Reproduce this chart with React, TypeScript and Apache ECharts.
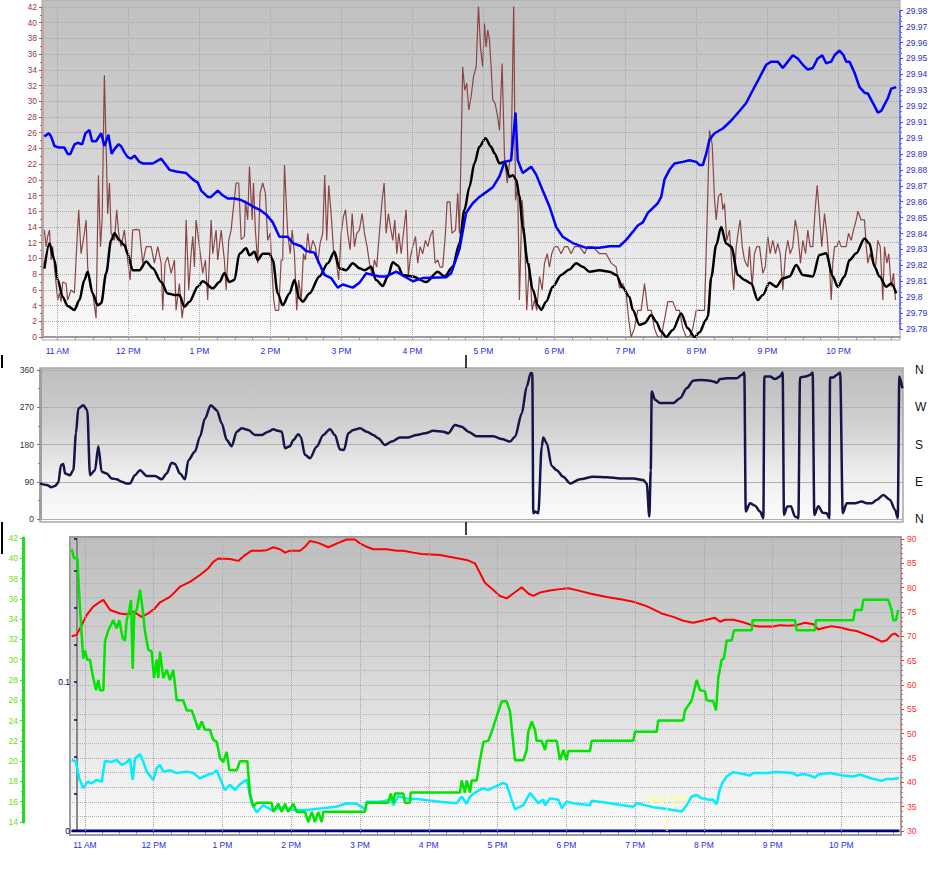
import React, { useEffect, useRef } from 'react';
import * as echarts from 'echarts';

// time axis values are minutes after midnight
const X_MIN = 647;
const X_MAX = 1372;
const HOURS = [11, 12, 13, 14, 15, 16, 17, 18, 19, 20, 21, 22];
const HOUR_TICKS = HOURS.map((h) => h * 60);
const QUARTER_TICKS: number[] = [];
for (let m = 660; m <= 1365; m += 15) QUARTER_TICKS.push(m);
const SUNSET = 1168;

// Top panel: wind gust (mph), left axis
const GUST: [number, number][] = [
  [649.0,13.6],[650.5,11.5],[651.8,12.8],[653.3,13.6],[654.7,9.8],[656.0,11.5],[657.5,8.9],[660.3,4.7],[661.7,5.6],[663.1,4.5],
  [664.5,7.0],[667.4,6.8],[668.7,4.7],[671.6,6.0],[674.4,5.6],[676.3,11.5],[678.0,16.2],[680.0,10.6],[682.8,13.2],[684.3,14.9],
  [685.6,8.9],[687.7,6.4],[689.8,5.6],[692.7,2.4],[694.7,20.6],[696.4,11.5],[697.8,14.9],[699.7,33.3],[701.2,24.2],[702.5,15.7],
  [704.0,19.6],[705.4,13.2],[708.2,12.3],[710.1,16.2],[711.8,13.2],[713.8,11.5],[716.6,13.6],[719.4,9.8],[721.5,7.25],[723.6,13.6],
  [726.5,13.7],[729.3,13.6],[732.1,9.4],[735.0,11.5],[739.2,11.5],[742.0,9.4],[744.8,11.5],[747.7,9.4],[749.0,3.4],[751.0,9.4],
  [753.2,10.2],[756.1,8.1],[758.9,9.8],[760.3,3.4],[763.1,6.8],[765.4,2.4],[767.3,4.7],[768.8,14.9],[771.0,6.0],[773.0,10.6],
  [774.4,12.8],[775.8,8.9],[777.2,14.9],[780.0,11.5],[782.8,8.1],[785.1,9.8],[787.0,4.7],[789.9,14.9],[791.3,10.6],[794.1,13.6],
  [795.5,9.8],[798.4,13.6],[801.1,9.8],[802.6,6.0],[804.8,12.3],[806.8,13.6],[808.2,15.7],[811.0,19.6],[813.2,19.6],[815.3,12.4],
  [818.1,12.8],[818.9,17.4],[820.8,14.9],[822.3,21.7],[824.6,14.9],[825.7,19.6],[827.3,13.6],[829.3,9.4],[831.3,18.3],[833.5,19.6],
  [835.8,18.3],[837.7,12.3],[839.8,13.2],[841.5,8.1],[842.8,4.7],[844.2,3.4],[847.0,3.4],[849.1,9.8],[850.4,9.8],[851.9,21.9],
  [853.3,17.4],[854.6,13.2],[856.7,10.6],[858.4,13.6],[860.3,10.6],[862.2,3.4],[863.9,7.25],[866.0,4.7],[867.9,10.6],[869.6,9.8],
  [871.6,13.2],[873.6,10.6],[875.8,12.3],[878.0,11.5],[880.0,9.4],[882.0,11.9],[884.2,13.2],[885.9,20.6],[887.6,12.3],[889.3,19.3],
  [891.3,15.7],[893.3,11.1],[895.5,9.8],[897.7,7.25],[899.8,13.2],[901.7,15.3],[903.4,16.2],[905.3,13.2],[907.4,11.1],[909.1,15.7],
  [911.0,11.5],[913.0,13.2],[915.2,13.6],[917.5,15.7],[919.5,13.2],[921.7,11.5],[923.7,9.4],[926.0,7.7],[927.9,9.8],[929.8,8.9],
  [932.1,13.2],[934.4,17.4],[936.1,19.6],[937.8,13.2],[939.7,15.7],[941.4,14.0],[943.4,12.3],[945.1,14.9],[946.8,10.6],[948.5,13.2],
  [950.5,10.6],[952.4,13.2],[954.7,16.2],[956.6,7.7],[958.3,10.2],[960.3,11.5],[962.6,12.8],[964.5,9.4],[966.5,11.5],[968.7,10.6],
  [971.0,12.3],[973.0,11.5],[975.0,12.8],[977.2,13.6],[979.2,9.4],[981.4,9.8],[983.4,8.9],[985.6,8.9],[987.9,13.2],[989.3,17.2],
  [991.7,17.2],[993.4,13.2],[996.4,13.6],[998.3,18.3],[999.7,13.2],[1001.2,24.2],[1002.5,34.4],[1004.2,31.4],[1005.9,32.3],[1007.6,28.9],
  [1009.6,30.6],[1011.6,33.1],[1013.9,34.4],[1015.8,42.3],[1017.5,36.9],[1019.4,34.4],[1020.9,39.9],[1022.3,36.9],[1023.7,39.1],[1025.1,37.8],
  [1026.5,34.4],[1027.9,30.2],[1029.9,29.7],[1032.1,28.0],[1033.6,26.3],[1035.8,34.8],[1037.8,22.9],[1040.1,19.6],[1042.0,22.1],[1043.4,22.9],
  [1045.6,42.3],[1047.1,17.4],[1049.0,19.1],[1050.4,4.7],[1052.7,17.4],[1054.7,13.2],[1056.6,3.4],[1058.9,9.4],[1061.2,3.4],[1063.1,4.7],
  [1065.1,3.4],[1067.4,7.7],[1069.6,6.0],[1071.6,9.4],[1073.9,10.6],[1075.8,8.9],[1077.7,10.6],[1080.0,11.5],[1082.8,11.5],[1085.7,10.6],
  [1088.5,11.5],[1091.3,11.5],[1094.1,10.6],[1096.9,11.5],[1101.2,11.5],[1105.4,10.6],[1108.2,11.5],[1112.4,11.5],[1118.1,10.6],[1123.7,10.6],
  [1128.0,9.4],[1132.2,8.9],[1135.0,6.2],[1137.7,6.8],[1140.6,5.6],[1142.8,2.2],[1144.8,0],[1147.6,1.1],[1150.4,3.4],[1153.3,3.4],
  [1156.1,6.8],[1158.9,3.4],[1161.8,3.4],[1164.5,1.1],[1167.3,0],[1170.2,0],[1173.0,2.2],[1175.8,4.5],[1180.0,4.5],[1182.9,3.4],
  [1185.7,3.4],[1188.5,1.1],[1191.3,0],[1194.1,0],[1196.9,1.1],[1199.8,3.4],[1204.0,3.4],[1206.8,3.4],[1208.7,13.2],[1211.0,26.3],
  [1213.3,24.5],[1215.3,17.4],[1216.7,14.9],[1218.6,17.9],[1220.9,18.3],[1222.3,16.2],[1223.7,17.0],[1225.6,12.3],[1227.9,13.6],[1229.9,8.9],
  [1231.5,6.0],[1233.6,11.5],[1235.5,13.6],[1237.0,14.9],[1238.7,11.5],[1240.6,9.8],[1243.4,8.9],[1244.8,11.5],[1247.1,6.4],[1249.0,10.6],
  [1251.0,11.5],[1253.3,11.5],[1256.1,8.1],[1258.1,8.9],[1260.3,12.8],[1262.3,10.6],[1264.5,12.3],[1266.8,10.6],[1268.7,11.9],[1270.8,10.6],
  [1273.0,6.0],[1275.3,10.6],[1277.2,12.3],[1279.2,10.6],[1281.4,11.5],[1283.5,14.9],[1285.6,13.2],[1287.9,9.4],[1289.9,12.3],[1292.2,10.6],
  [1294.1,13.6],[1296.1,11.5],[1298.3,11.5],[1300.3,16.2],[1302.0,19.3],[1304.0,15.3],[1305.9,11.5],[1308.2,15.7],[1310.2,13.2],[1312.4,8.9],
  [1313.9,4.7],[1315.2,9.4],[1316.7,11.5],[1318.6,11.5],[1320.3,12.3],[1322.3,11.5],[1326.5,11.5],[1328.5,13.2],[1330.8,12.3],[1332.7,13.6],
  [1335.0,14.9],[1336.4,16.0],[1339.2,14.9],[1342.0,14.9],[1343.5,11.5],[1344.8,9.4],[1346.8,10.6],[1349.0,9.4],[1351.3,8.9],[1353.3,12.3],
  [1355.3,11.5],[1357.5,4.7],[1358.9,11.5],[1360.9,9.4],[1362.5,10.6],[1364.6,6.4],[1366.5,8.1],[1368.2,4.7],
];

// Top panel: average wind speed (mph), left axis
const WIND_AVG: [number, number][] = [
  [649.0,8.7],[653.3,11.9],[657.5,9.8],[660.3,7.25],[664.5,5.1],[668.7,3.95],[674.4,3.45],[678.6,4.7],[682.8,7.25],[685.6,8.3],
  [689.8,5.55],[694.1,4.05],[697.0,4.3],[701.2,8.1],[705.4,12.3],[708.2,13.2],[712.4,12.3],[716.6,11.7],[719.4,10.6],[723.6,8.5],
  [729.3,8.5],[735.0,9.6],[740.6,8.75],[747.7,7.0],[753.2,5.55],[758.9,5.35],[763.1,5.35],[767.3,3.85],[771.6,4.5],[778.6,6.4],
  [782.8,7.1],[791.3,6.2],[796.9,7.0],[801.1,8.1],[805.4,7.0],[809.6,7.25],[813.8,10.6],[819.5,11.3],[822.3,10.4],[826.5,10.85],
  [829.3,9.8],[833.5,10.6],[839.2,10.6],[842.0,9.8],[846.2,5.55],[850.4,4.05],[856.1,5.55],[860.3,7.25],[864.5,4.9],[867.3,4.5],
  [873.0,5.55],[881.4,7.7],[888.5,9.4],[894.1,10.85],[898.3,8.75],[904.0,8.5],[909.6,9.4],[915.2,8.75],[919.5,8.5],[925.1,8.95],
  [929.3,7.25],[934.9,6.5],[939.2,7.7],[943.4,9.5],[947.6,9.1],[951.8,7.9],[960.3,7.7],[971.6,7.0],[981.4,8.3],[987.1,7.7],
  [994.1,8.95],[999.7,11.9],[1004.0,16.2],[1008.2,19.1],[1012.4,22.1],[1016.6,24.2],[1021.7,25.3],[1026.5,24.2],[1029.3,23.4],[1033.6,22.1],
  [1037.8,22.3],[1042.0,20.4],[1044.8,20.6],[1047.7,20.0],[1050.4,17.9],[1053.2,14.0],[1057.5,9.4],[1061.7,6.0],[1065.9,4.05],[1068.8,3.45],
  [1073.0,4.5],[1078.6,6.4],[1085.7,7.9],[1092.7,8.6],[1098.4,9.4],[1103.9,8.95],[1109.6,8.3],[1118.1,8.5],[1126.5,8.3],[1132.2,7.9],
  [1137.7,6.3],[1143.4,5.1],[1146.2,3.45],[1151.9,1.55],[1156.1,1.75],[1161.8,2.8],[1166.0,1.95],[1170.2,0.7],[1174.4,0],[1180.0,0.9],
  [1187.1,3.0],[1192.7,1.1],[1198.3,0],[1202.6,0.6],[1208.2,2.2],[1209.6,2.6],[1212.5,7.6],[1216.7,11.7],[1220.9,14.0],[1225.1,11.9],
  [1229.4,11.5],[1235.0,7.9],[1240.6,7.25],[1246.3,6.8],[1251.8,4.7],[1256.1,5.35],[1261.7,6.9],[1267.4,6.4],[1273.0,7.45],[1278.6,7.7],
  [1284.3,9.15],[1289.9,7.9],[1298.3,7.7],[1304.0,10.45],[1309.6,10.65],[1315.2,7.7],[1319.4,6.4],[1325.1,7.7],[1329.3,9.8],[1335.0,10.65],
  [1342.0,12.55],[1346.2,11.9],[1350.5,8.95],[1354.7,7.7],[1360.3,6.4],[1364.6,6.8],[1368.8,5.55],
];

// Top panel: barometer (inHg), right axis
const BAROMETER: [number, number][] = [
  [649.0,29.901],[652.7,29.903],[654.7,29.901],[657.5,29.895],[661.7,29.894],[665.9,29.894],[668.7,29.890],[671.0,29.890],[674.4,29.896],[677.2,29.897],
  [680.9,29.896],[683.7,29.903],[687.1,29.905],[689.3,29.898],[692.7,29.898],[697.0,29.903],[699.7,29.895],[703.1,29.902],[705.9,29.890],[708.2,29.893],
  [711.6,29.896],[713.8,29.895],[716.6,29.891],[719.4,29.888],[722.3,29.887],[725.1,29.889],[729.3,29.885],[732.1,29.884],[740.6,29.884],[747.7,29.887],
  [754.7,29.880],[760.3,29.879],[768.8,29.878],[774.4,29.874],[778.6,29.872],[781.5,29.867],[787.0,29.863],[789.9,29.863],[795.5,29.867],[799.7,29.864],
  [803.9,29.862],[809.6,29.862],[815.3,29.861],[820.8,29.859],[825.1,29.857],[830.7,29.855],[836.4,29.852],[842.0,29.847],[847.6,29.838],[854.6,29.838],
  [858.9,29.834],[866.0,29.832],[870.2,29.829],[877.2,29.828],[881.4,29.821],[885.7,29.814],[891.3,29.812],[896.9,29.806],[901.1,29.808],[909.6,29.806],
  [915.2,29.809],[920.9,29.815],[926.5,29.814],[932.1,29.813],[937.8,29.813],[946.3,29.816],[960.3,29.810],[968.7,29.812],[988.5,29.8125],[992.7,29.815],
  [999.7,29.830],[1005.4,29.853],[1011.0,29.859],[1016.6,29.863],[1022.3,29.866],[1027.9,29.869],[1033.6,29.876],[1037.8,29.885],[1043.4,29.886],[1047.1,29.916],
  [1049.0,29.886],[1053.2,29.878],[1060.3,29.882],[1064.6,29.877],[1070.1,29.867],[1075.8,29.857],[1081.5,29.844],[1087.0,29.838],[1095.5,29.834],[1106.8,29.831],
  [1118.1,29.831],[1126.5,29.832],[1135.0,29.832],[1140.6,29.836],[1146.2,29.841],[1150.4,29.845],[1154.7,29.847],[1158.9,29.853],[1163.1,29.856],[1167.3,29.859],
  [1170.2,29.863],[1173.0,29.874],[1177.2,29.880],[1181.4,29.884],[1188.5,29.885],[1194.1,29.886],[1199.8,29.885],[1202.6,29.883],[1205.4,29.883],[1208.2,29.890],
  [1211.0,29.899],[1215.3,29.903],[1222.3,29.906],[1229.4,29.911],[1236.4,29.917],[1242.0,29.922],[1247.6,29.930],[1253.3,29.938],[1258.9,29.946],[1263.2,29.948],
  [1268.7,29.948],[1273.0,29.944],[1277.2,29.948],[1281.4,29.952],[1285.6,29.950],[1289.9,29.946],[1294.1,29.943],[1298.3,29.944],[1302.5,29.950],[1306.3,29.952],
  [1309.6,29.947],[1313.9,29.948],[1316.7,29.952],[1320.9,29.955],[1324.3,29.952],[1326.5,29.948],[1329.3,29.948],[1333.6,29.941],[1337.8,29.932],[1342.0,29.9285],
  [1344.8,29.928],[1347.7,29.924],[1350.5,29.920],[1353.3,29.916],[1356.1,29.917],[1358.9,29.921],[1361.7,29.925],[1364.6,29.931],[1368.8,29.932],
];

// Middle panel: wind direction (degrees)
const WIND_DIR: [number, number][] = [
  [647.0,86],[652.6,82],[656.8,77],[659.6,80],[662.4,88],[664.6,130],[666.6,133],[668.0,110],[672.2,106],[675.0,118],
  [677.2,207],[679.2,267],[683.4,275],[686.7,263],[689.0,106],[693.2,118],[696.0,176],[698.8,114],[703.0,110],[707.2,98],
  [711.4,96],[715.6,90],[719.8,86],[722.6,86],[726.8,106],[731.0,118],[736.6,104],[743.6,104],[749.2,96],[753.4,110],
  [757.6,136],[760.4,133],[764.6,110],[768.8,96],[771.6,142],[777.2,163],[781.4,199],[785.6,243],[790.4,275],[795.5,263],
  [799.7,231],[803.9,191],[808.0,176],[812.3,211],[816.5,219],[822.0,215],[827.6,203],[833.3,203],[838.8,211],[843.0,217],
  [847.2,213],[850.1,211],[852.8,171],[857.0,176],[859.8,191],[864.0,205],[866.0,199],[869.6,155],[873.8,147],[879.5,175],
  [885.0,203],[890.6,217],[894.8,203],[899.0,168],[902.4,167],[906.0,207],[910.2,215],[915.8,219],[921.5,211],[927.0,203],
  [931.2,195],[936.8,179],[942.5,187],[949.4,197],[956.4,197],[963.5,203],[970.4,207],[977.4,213],[985.8,211],[990.0,207],
  [995.6,227],[1001.3,223],[1006.8,211],[1013.9,200],[1022.3,200],[1027.8,200],[1034.9,193],[1041.9,187],[1046.1,199],[1051.7,255],
  [1055.9,320],[1059.3,353],[1060.6,352],[1061.4,14],[1062.9,18],[1065.6,14],[1068.5,175],[1069.8,197],[1072.7,183],[1076.9,128],
  [1081.1,118],[1086.6,102],[1092.3,86],[1100.7,96],[1111.8,102],[1123.1,101],[1134.3,98],[1145.4,98],[1153.8,94],[1156.7,86],
  [1158.9,6],[1160.1,118],[1160.9,308],[1163.7,288],[1167.9,280],[1179.0,280],[1184.7,292],[1190.3,316],[1195.8,334],[1201.5,336],
  [1209.9,334],[1212.7,332],[1215.5,329],[1218.3,338],[1223.9,340],[1232.3,340],[1236.5,348],[1238.7,354],[1239.9,18],[1243.5,38],
  [1247.7,32],[1251.9,18],[1254.7,2],[1255.5,344],[1260.3,344],[1264.5,338],[1268.7,344],[1270.9,354],[1272.0,10],[1274.8,30],
  [1277.7,31],[1281.3,6],[1284.1,2],[1285.5,342],[1289.7,344],[1293.9,348],[1296.1,354],[1297.5,10],[1300.9,31],[1304.6,15],
  [1307.9,14],[1310.1,2],[1310.7,342],[1313.5,342],[1316.3,348],[1319.2,354],[1321.4,14],[1324.8,38],[1331.7,38],[1337.3,42],
  [1341.5,38],[1345.7,38],[1349.9,46],[1355.5,58],[1361.1,46],[1365.3,22],[1367.6,2],[1368.9,344],[1371.5,316],
];

// Bottom panel: outside temperature (F), right axis
const TEMP: [number, number][] = [
  [648.5,70.0],[652.8,70.3],[657.2,72.3],[661.6,74.4],[667.3,76.1],[673.2,77.1],[676.1,77.5],[681.9,75.4],[690.6,74.7],[697.9,74.5],
  [702.2,75.1],[709.5,74.0],[715.3,74.7],[721.2,75.8],[725.5,77.0],[734.2,78.1],[743.0,80.2],[751.7,81.2],[760.4,82.6],[767.7,84.0],
  [772.0,85.3],[776.4,86.0],[786.6,85.9],[793.8,85.5],[799.7,86.7],[805.5,87.6],[812.8,87.6],[818.6,87.7],[824.4,88.3],[830.2,87.9],
  [834.6,87.2],[838.9,87.6],[847.7,87.6],[852.0,88.4],[856.4,89.6],[863.6,89.2],[872.4,88.3],[881.1,89.2],[888.4,89.9],[895.6,89.9],
  [900.0,89.1],[905.8,88.4],[911.6,87.9],[923.3,87.9],[932.0,87.6],[937.8,87.6],[946.5,87.2],[953.8,86.9],[969.8,86.7],[981.4,86.2],
  [993.1,85.7],[1000.3,85.0],[1004.7,83.0],[1009.0,81.0],[1016.3,79.5],[1022.1,78.3],[1028.0,77.8],[1033.7,78.8],[1041.1,80.1],[1046.8,78.8],
  [1051.2,78.3],[1057.0,79.0],[1065.7,79.4],[1074.5,79.7],[1081.7,79.9],[1089.0,79.5],[1100.6,78.8],[1115.2,78.1],[1129.7,77.5],[1138.4,77.1],
  [1150.1,76.2],[1163.2,74.7],[1173.3,74.0],[1182.0,73.2],[1190.8,72.8],[1196.6,73.1],[1202.5,73.4],[1209.7,73.8],[1214.1,73.0],[1218.4,73.4],
  [1225.7,73.4],[1234.4,72.9],[1241.7,72.3],[1247.5,72.0],[1260.6,72.0],[1266.4,72.3],[1273.7,72.2],[1281.0,72.3],[1288.2,72.8],[1295.5,72.5],
  [1299.8,71.4],[1304.2,71.7],[1311.5,72.1],[1318.7,71.8],[1327.5,71.3],[1333.3,71.1],[1342.0,70.3],[1347.8,69.8],[1355.1,68.9],[1359.5,69.2],
  [1363.8,70.3],[1366.7,70.6],[1370.2,69.9],
];

// Bottom panel: humidity (%), far-left green axis
const HUMIDITY: [number, number][] = [
  [648.5,40.9],[650.5,40.0],[653.4,40.0],[655.7,35.1],[657.2,32.4],[658.6,30.1],[660.1,30.9],[662.1,30.0],[664.4,30.0],[667.3,28.2],
  [669.7,27.0],[671.7,28.0],[673.2,27.0],[676.1,27.0],[677.5,31.8],[680.4,32.9],[684.8,33.9],[687.7,33.1],[690.0,33.9],[693.0,32.1],
  [695.0,31.9],[696.5,33.9],[698.7,34.9],[700.2,35.9],[701.7,29.1],[703.1,34.7],[705.2,34.9],[708.1,36.9],[710.4,34.9],[712.4,32.8],
  [715.3,31.0],[718.3,30.8],[720.3,28.2],[722.6,30.0],[724.0,28.2],[725.5,30.8],[728.4,28.2],[731.4,29.0],[734.2,28.0],[737.1,29.0],
  [740.1,26.0],[745.8,26.0],[748.8,25.0],[753.2,25.0],[756.1,24.1],[758.9,23.1],[761.9,23.9],[764.8,23.1],[769.1,23.1],[772.0,22.1],
  [775.0,21.9],[777.9,20.3],[780.7,19.9],[783.7,20.9],[786.0,19.1],[792.4,19.1],[795.3,20.0],[801.7,20.0],[804.0,16.8],[806.9,15.5],
  [809.9,15.9],[822.9,15.9],[824.4,15.0],[828.7,15.8],[831.7,15.0],[834.6,15.8],[837.4,15.0],[841.8,15.8],[844.8,15.0],[852.0,15.0],
  [854.9,14.0],[857.9,15.0],[860.7,14.0],[863.6,15.0],[866.6,14.0],[868.0,15.0],[904.4,15.0],[905.8,15.9],[924.7,15.9],[926.8,16.8],
  [929.1,15.9],[930.5,16.8],[937.8,16.8],[939.2,15.9],[943.6,15.9],[944.2,16.9],[987.2,16.9],[988.7,18.1],[991.6,16.9],[993.1,18.1],
  [996.0,16.9],[997.4,18.1],[1001.8,18.1],[1004.7,20.1],[1007.6,21.9],[1011.9,22.0],[1014.9,22.9],[1017.8,23.9],[1020.7,24.9],[1023.6,25.9],
  [1028.0,25.9],[1030.9,24.9],[1035.2,20.1],[1042.5,20.1],[1045.4,21.1],[1046.8,22.9],[1049.8,23.9],[1052.7,23.1],[1054.1,22.0],[1058.5,22.0],
  [1061.4,21.1],[1062.9,22.0],[1071.6,22.0],[1074.5,20.1],[1077.4,21.1],[1080.3,20.1],[1081.7,21.0],[1100.6,21.0],[1102.1,22.0],[1138.4,22.0],
  [1139.9,22.9],[1158.8,22.9],[1160.2,24.0],[1182.0,24.0],[1183.5,25.0],[1189.4,26.0],[1193.7,28.0],[1196.6,27.0],[1201.0,26.9],[1202.5,26.0],
  [1208.2,25.9],[1210.6,25.0],[1212.6,28.2],[1215.5,30.0],[1217.5,30.1],[1219.9,31.9],[1224.3,31.9],[1226.3,32.9],[1241.7,32.9],[1242.6,33.9],
  [1279.5,33.9],[1281.0,32.9],[1297.0,32.9],[1297.8,33.9],[1330.4,33.9],[1331.8,34.9],[1337.7,34.9],[1339.1,35.9],[1360.9,35.9],[1363.8,34.9],
  [1365.2,33.9],[1367.6,33.9],[1369.6,34.9],
];

// Bottom panel: dew point (F), right axis
const DEW_POINT: [number, number][] = [
  [648.5,44.6],[652.2,44.2],[655.1,40.8],[658.6,38.8],[662.1,40.1],[665.9,39.8],[670.3,40.5],[674.6,40.1],[677.5,44.4],[683.4,44.2],
  [687.7,44.6],[692.1,43.6],[696.5,44.1],[699.3,44.9],[701.7,40.5],[703.7,44.9],[708.1,45.8],[711.0,44.2],[713.9,42.2],[719.7,40.5],
  [722.6,42.9],[725.5,43.6],[728.4,42.2],[734.2,42.5],[740.1,41.9],[748.8,42.2],[754.6,41.9],[760.4,40.8],[766.3,41.5],[772.0,41.9],
  [775.0,42.5],[777.9,40.8],[782.2,38.4],[786.6,39.5],[791.0,38.4],[795.3,39.6],[801.1,40.6],[805.5,35.7],[809.9,33.8],[815.6,35.3],
  [822.9,34.3],[833.1,34.9],[841.8,34.3],[853.5,34.3],[868.0,34.7],[879.7,35.0],[888.4,35.7],[897.1,35.6],[904.4,34.5],[905.8,36.0],
  [917.4,36.0],[927.7,36.5],[929.1,35.3],[933.4,37.1],[940.7,36.7],[952.3,36.5],[969.8,36.0],[984.3,35.7],[988.7,37.1],[993.1,35.6],
  [996.0,37.1],[1001.8,38.1],[1007.6,38.8],[1011.9,38.4],[1017.8,39.1],[1025.0,39.9],[1028.0,39.5],[1032.3,36.4],[1035.2,34.5],[1042.5,35.3],
  [1048.3,37.8],[1051.2,37.1],[1055.5,35.7],[1059.9,36.5],[1061.4,35.3],[1065.7,36.7],[1073.0,36.4],[1076.0,34.7],[1080.3,36.0],[1086.1,35.7],
  [1100.6,35.3],[1102.1,36.2],[1115.2,35.8],[1129.7,35.3],[1138.4,35.0],[1141.4,35.7],[1155.9,34.9],[1167.6,34.5],[1180.6,34.0],[1185.0,35.3],
  [1189.4,37.1],[1193.7,37.4],[1198.1,36.7],[1201.0,36.7],[1203.9,36.4],[1208.2,36.4],[1211.2,35.5],[1213.4,38.1],[1215.5,39.6],[1219.9,41.2],
  [1225.7,42.1],[1234.4,41.7],[1240.2,41.4],[1243.1,41.9],[1254.8,41.9],[1263.5,42.1],[1278.0,41.9],[1281.0,41.4],[1286.7,41.7],[1292.6,41.4],
  [1296.9,41.0],[1299.8,41.6],[1310.0,41.9],[1321.6,41.4],[1330.4,41.2],[1336.2,41.6],[1344.9,40.9],[1355.1,40.3],[1359.5,40.7],[1365.2,40.7],
  [1370.2,40.9],
];

// Bottom panel: rain (in), inner left axis
const RAIN: [number, number][] = [[648.5, 0], [1370.5, 0]];

const FONT = '"Liberation Sans", Arial, sans-serif';

function fmtHour(v: number): string {
  const h = Math.round(v / 60);
  if (h < 12) return h + ' AM';
  if (h === 12) return '12 PM';
  return h - 12 + ' PM';
}

const COMPASS: Record<number, string> = { 0: 'N', 90: 'E', 180: 'S', 270: 'W', 360: 'N' };

function hiddenX(gridIndex: number) {
  return { type: 'value', gridIndex, min: X_MIN, max: X_MAX, show: false };
}

function hourLines(xAxisIndex: number, yAxisIndex: number) {
  return {
    type: 'line',
    xAxisIndex,
    yAxisIndex,
    data: [],
    silent: true,
    z: 1,
    markLine: {
      silent: true,
      symbol: ['none', 'none'],
      label: { show: false },
      lineStyle: { color: '#a8a8a8', type: 'dotted', width: 1 },
      data: HOUR_TICKS.map((m) => ({ xAxis: m })),
      animation: false,
    },
  };
}

export default function App() {
  const ref = useRef<HTMLDivElement>(null);

  useEffect(() => {
    document.body.style.margin = '0';
    if (!ref.current) return;
    const chart = echarts.init(ref.current, undefined, { renderer: 'svg' });

    const grad = (stops: [number, string][]) =>
      new echarts.graphic.LinearGradient(0, 0, 0, 1, stops.map(([offset, color]) => ({ offset, color })));

    const option: any = {
      animation: false,
      backgroundColor: '#ffffff',
      textStyle: { fontFamily: FONT },
      graphic: [
        {
          type: 'rect', z: -10, silent: true,
          shape: { x: 42, y: 0, width: 858, height: 340 },
          style: { fill: grad([[0, '#c0c0c0'], [0.35, '#cdcdcd'], [0.7, '#e6e6e6'], [1, '#fdfdfd']]), stroke: '#a8a8a8', lineWidth: 1 },
        },
        {
          type: 'rect', z: -10, silent: true,
          shape: { x: 40, y: 368, width: 863, height: 154 },
          style: { fill: grad([[0, '#bdbdbd'], [0.35, '#cfcfcf'], [0.7, '#eeeeee'], [1, '#fdfdfd']]), stroke: '#a8a8a8', lineWidth: 1.5 },
        },
        {
          type: 'rect', z: -10, silent: true,
          shape: { x: 70, y: 537, width: 831, height: 298 },
          style: { fill: grad([[0, '#bebebe'], [0.3, '#cdcdcd'], [0.7, '#e8e8e8'], [1, '#fcfcfc']]), stroke: '#9c9c9c', lineWidth: 2 },
        },
        { type: 'line', silent: true, shape: { x1: 2, y1: 355, x2: 2, y2: 368 }, style: { stroke: '#000', lineWidth: 2 } },
        { type: 'line', silent: true, shape: { x1: 466, y1: 355, x2: 466, y2: 368 }, style: { stroke: '#000', lineWidth: 1.5 } },
        { type: 'line', silent: true, shape: { x1: 2, y1: 522, x2: 2, y2: 554 }, style: { stroke: '#000', lineWidth: 2 } },
        { type: 'line', silent: true, shape: { x1: 466, y1: 522, x2: 466, y2: 535 }, style: { stroke: '#000', lineWidth: 1.5 } },
      ],
      grid: [
        { left: 42, top: 7, width: 858, height: 330 },
        { left: 42, top: 10.7, width: 858, height: 318.3 },
        { left: 40, top: 370, width: 863, height: 149 },
        { left: 70, top: 539, width: 831, height: 292 },
        { left: 70, top: 538, width: 831, height: 284 },
      ],
      xAxis: [
        {
          type: 'value', gridIndex: 0, min: X_MIN, max: X_MAX, offset: 3,
          axisLine: { show: true, lineStyle: { color: '#9a9a9a', width: 2 } },
          axisTick: { show: true, customValues: QUARTER_TICKS, length: 3, lineStyle: { color: '#9a9a9a' } },
          axisLabel: { show: true, customValues: HOUR_TICKS, formatter: fmtHour, color: '#2a2ae6', fontSize: 8.5, fontFamily: FONT, margin: 6 },
          splitLine: { show: false },
        },
        hiddenX(1),
        hiddenX(2),
        {
          type: 'value', gridIndex: 3, min: X_MIN, max: X_MAX, offset: 3,
          axisLine: { show: true, lineStyle: { color: '#9a9a9a', width: 2 } },
          axisTick: { show: true, customValues: QUARTER_TICKS, length: 3, lineStyle: { color: '#9a9a9a' } },
          axisLabel: { show: true, customValues: HOUR_TICKS, formatter: fmtHour, color: '#2a2ae6', fontSize: 8.5, fontFamily: FONT, margin: 6 },
          splitLine: { show: false },
        },
        hiddenX(4),
      ],
      yAxis: [
        {
          type: 'value', gridIndex: 0, position: 'left', min: 0, max: 42, interval: 2,
          axisLine: { show: true, lineStyle: { color: '#bfa6a6', width: 3 } },
          axisTick: { show: true, length: 3, lineStyle: { color: '#a05a5a' } },
          minorTick: { show: true, splitNumber: 2, length: 2, lineStyle: { color: '#b07070' } },
          axisLabel: { color: '#9a3a3a', fontSize: 8.5, fontFamily: FONT, margin: 5 },
          splitLine: { show: true, lineStyle: { color: '#a9a9a9', type: 'dotted', width: 1 } },
        },
        {
          type: 'value', gridIndex: 1, position: 'right', min: 29.78, max: 29.98, interval: 0.01,
          axisLine: { show: true, lineStyle: { color: '#6a6aff', width: 2, type: 'dotted' } },
          axisTick: { show: true, length: 3, lineStyle: { color: '#4a4aee' } },
          minorTick: { show: true, splitNumber: 3, length: 2, lineStyle: { color: '#6a6aff' } },
          axisLabel: { color: '#2e2ecc', fontSize: 8.5, fontFamily: FONT, margin: 6, formatter: (v: number) => String(+v.toFixed(2)) },
          splitLine: { show: false },
        },
        {
          type: 'value', gridIndex: 2, position: 'left', min: 0, max: 360, interval: 90,
          axisLine: { show: true, lineStyle: { color: '#a0a0a0', width: 3 } },
          axisTick: { show: true, length: 3, lineStyle: { color: '#777' } },
          minorTick: { show: true, splitNumber: 2, length: 2, lineStyle: { color: '#888' } },
          axisLabel: { color: '#333', fontSize: 8.5, fontFamily: FONT, margin: 6 },
          splitLine: { show: true, lineStyle: { color: '#b0b0b0', width: 1 } },
        },
        {
          type: 'value', gridIndex: 2, position: 'right', min: 0, max: 360, interval: 90,
          axisLine: { show: false }, axisTick: { show: false }, splitLine: { show: false },
          axisLabel: { color: '#111', fontSize: 12, fontFamily: FONT, margin: 12, formatter: (v: number) => COMPASS[v] ?? '' },
        },
        {
          type: 'value', gridIndex: 3, position: 'right', min: 30, max: 90, interval: 5,
          axisLine: { show: true, lineStyle: { color: '#a0a0a0', width: 2 } },
          axisTick: { show: true, length: 3, lineStyle: { color: '#ff3030' } },
          minorTick: { show: true, splitNumber: 5, length: 2, lineStyle: { color: '#ff5050' } },
          axisLabel: { color: '#ff3030', fontSize: 8.5, fontFamily: FONT, margin: 6 },
          splitLine: { show: false },
        },
        {
          type: 'value', gridIndex: 3, position: 'left', min: 0, max: 0.196, interval: 0.025, offset: -7,
          axisLine: { show: true, lineStyle: { color: '#888', width: 2 } },
          axisTick: { show: true, length: 3, lineStyle: { color: '#000080', width: 1.5 } },
          axisLabel: { color: '#000066', fontSize: 8.5, fontFamily: FONT, margin: 7, formatter: (v: number) => (v === 0 ? '0' : Math.abs(v - 0.1) < 1e-6 ? '0.1' : '') },
          splitLine: { show: false },
        },
        {
          type: 'value', gridIndex: 3, min: 0, max: 20, interval: 1, position: 'right',
          axisLine: { show: false }, axisTick: { show: false }, axisLabel: { show: false },
          splitLine: { show: true, lineStyle: { color: '#b0b0b0', type: 'dotted', width: 1 } },
        },
        {
          type: 'value', gridIndex: 4, position: 'left', min: 14, max: 42, interval: 2, offset: 47,
          axisLine: { show: true, lineStyle: { color: '#22dd22', width: 3 } },
          axisTick: { show: true, length: 3, lineStyle: { color: '#33dd33' } },
          minorTick: { show: true, splitNumber: 2, length: 2, lineStyle: { color: '#33dd33' } },
          axisLabel: { color: '#70dd10', fontSize: 8.5, fontFamily: FONT, margin: 5 },
          splitLine: { show: false },
        },
      ],
      series: [
        hourLines(0, 0),
        {
          name: 'Wind Gust', type: 'line', xAxisIndex: 0, yAxisIndex: 0, data: GUST, showSymbol: false, z: 3,
          lineStyle: { color: '#8a4646', width: 1.2 },
        },
        {
          name: 'Wind Speed', type: 'line', xAxisIndex: 0, yAxisIndex: 0, data: WIND_AVG, showSymbol: false, z: 4,
          smooth: 0.3, smoothMonotone: 'x', lineStyle: { color: '#000000', width: 2.5 },
        },
        {
          name: 'Barometer', type: 'line', xAxisIndex: 1, yAxisIndex: 1, data: BAROMETER, showSymbol: false, z: 5,
          lineStyle: { color: '#0000ff', width: 2.5 },
        },
        {
          name: 'Wind Direction', type: 'line', xAxisIndex: 2, yAxisIndex: 2, data: WIND_DIR, showSymbol: false, z: 3,
          smooth: 0.3, smoothMonotone: 'x', lineStyle: { color: '#15154a', width: 2.5 },
        },
        hourLines(3, 4),
        {
          name: 'Temperature', type: 'line', xAxisIndex: 3, yAxisIndex: 4, data: TEMP, showSymbol: false, z: 3,
          lineStyle: { color: '#ff0000', width: 2 },
        },
        {
          name: 'Dew Point', type: 'line', xAxisIndex: 3, yAxisIndex: 4, data: DEW_POINT, showSymbol: false, z: 4,
          lineStyle: { color: '#00eeff', width: 2.5 },
        },
        {
          name: 'Rain', type: 'line', xAxisIndex: 3, yAxisIndex: 5, data: RAIN, showSymbol: false, z: 4,
          lineStyle: { color: '#000080', width: 3 },
          markLine: {
            silent: true,
            symbol: ['none', 'none'],
            lineStyle: { color: '#ffff66', type: 'dotted', width: 1.5 },
            label: { show: true, position: 'end', formatter: 'Sun Set', color: '#ffff70', fontSize: 11, fontFamily: FONT, distance: 3 },
            data: [[{ coord: [SUNSET, 0] }, { coord: [SUNSET, 0.016] }]],
          },
        },
        {
          name: 'Humidity', type: 'line', xAxisIndex: 4, yAxisIndex: 7, data: HUMIDITY, showSymbol: false, z: 5, clip: false,
          lineStyle: { color: '#00e400', width: 2.5 },
        },
      ],
    };

    chart.setOption(option);
    return () => chart.dispose();
  }, []);

  return <div ref={ref} style={{ width: 949, height: 881 }} />;
}
